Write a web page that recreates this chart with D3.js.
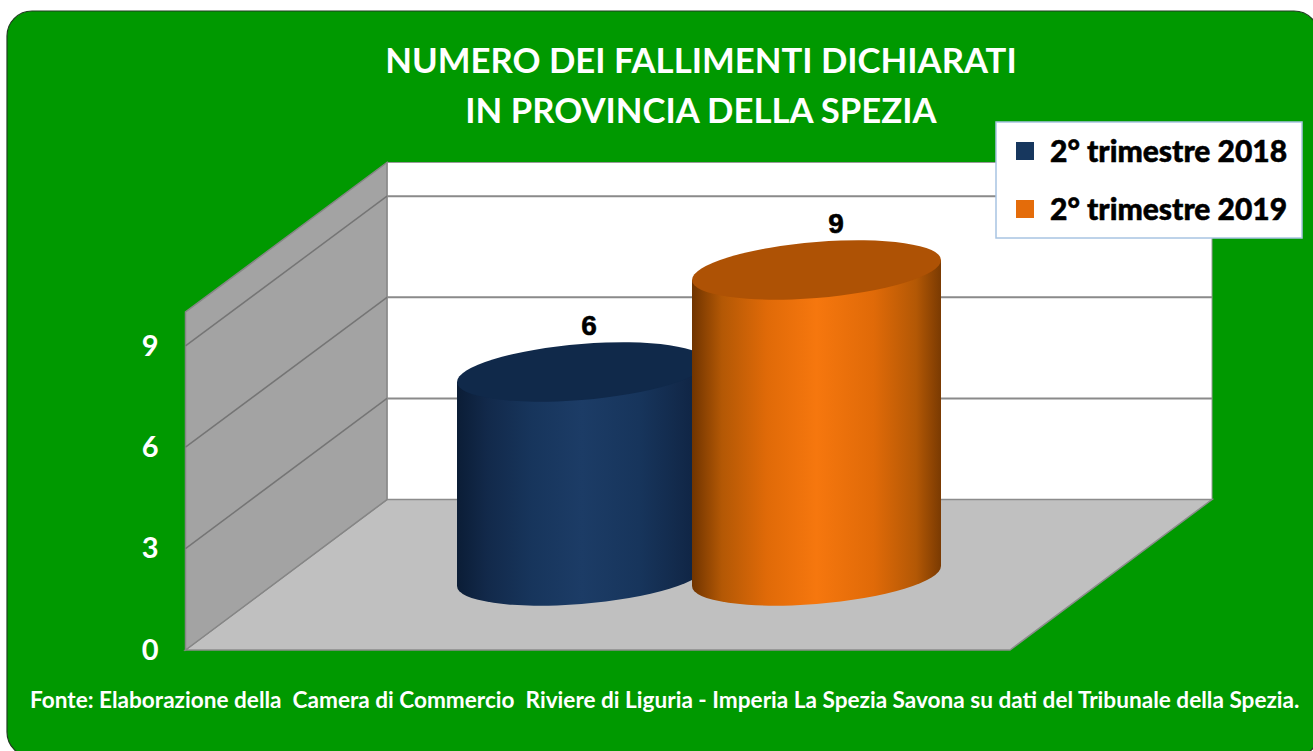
<!DOCTYPE html>
<html>
<head>
<meta charset="utf-8">
<script src="https://cdn.jsdelivr.net/npm/d3@7"></script>
<style>
  html, body { margin: 0; padding: 0; background: #fff; overflow: hidden; }
  svg { display: block; }
  text { font-family: Lato, "Open Sans", sans-serif; }
</style>
</head>
<body>
<svg width="1313" height="751"></svg>
<script>
// chart values
var series = ["2° trimestre 2018", "2° trimestre 2019"];
var values = [6, 9];
var ticks = [0, 3, 6, 9];
var titleLines = ["NUMERO DEI FALLIMENTI DICHIARATI", "IN PROVINCIA DELLA SPEZIA"];
var source = "Fonte: Elaborazione della  Camera di Commercio  Riviere di Liguria - Imperia La Spezia Savona su dati del Tribunale della Spezia.";

var svg = d3.select("svg");
var defs = svg.append("defs");

// green panel, runs off the right and bottom edge
svg.append("rect")
  .attr("x", 7).attr("y", 11)
  .attr("width", 1312).attr("height", 746)
  .attr("rx", 25).attr("ry", 25)
  .attr("fill", "#009900")
  .attr("stroke", "#1f3d1f")
  .attr("stroke-width", 1.2);

// the box: front face of the floor and back wall are the same scale, shifted
var yBack = d3.scaleLinear().domain([0, 10]).range([499.5, 162.5]);
var yFront = d3.scaleLinear().domain([0, 10]).range([650, 312]);
var xFront = 185.5, xBack = 387, xFrontRight = 1010, xBackRight = 1212;

// back wall
svg.append("rect")
  .attr("x", xBack).attr("y", yBack(10))
  .attr("width", xBackRight - xBack).attr("height", yBack(0) - yBack(10))
  .attr("fill", "#fff")
  .attr("stroke", "#999").attr("stroke-width", 1);

// floor
svg.append("polygon")
  .attr("points", [[xFront, yFront(0)], [xBack, yBack(0)], [xBackRight, yBack(0)], [xFrontRight, yFront(0)]].join(" "))
  .attr("fill", "#c0c0c0")
  .attr("stroke", "#8c8c8c").attr("stroke-width", 1.5);

// left wall
svg.append("polygon")
  .attr("points", [[xFront, yFront(0)], [xBack, yBack(0)], [xBack, yBack(10)], [xFront, yFront(10)]].join(" "))
  .attr("fill", "#a3a3a3")
  .attr("stroke", "#868686").attr("stroke-width", 1.5);

// gridlines
var gridTicks = ticks.slice(1);
svg.selectAll("line.wall").data(gridTicks).enter().append("line")
  .attr("class", "wall")
  .attr("x1", xFront).attr("x2", xBack)
  .attr("y1", function(d) { return yFront(d); })
  .attr("y2", function(d) { return yBack(d); })
  .attr("stroke", "#757575").attr("stroke-width", 1.5);
svg.selectAll("line.back").data(gridTicks).enter().append("line")
  .attr("class", "back")
  .attr("x1", xBack).attr("x2", xBackRight)
  .attr("y1", function(d) { return yBack(d); })
  .attr("y2", function(d) { return yBack(d); })
  .attr("stroke", "#8a8a8a").attr("stroke-width", 2);

// y axis labels
var yAxis = d3.axisLeft(yFront).tickValues(ticks).tickSize(0).tickPadding(27).tickFormat(d3.format("d"));
var yGroup = svg.append("g")
  .attr("transform", "translate(" + xFront + ",0)")
  .call(yAxis);
yGroup.select(".domain").remove();
yGroup.selectAll("text")
  .attr("fill", "#fff")
  .style("font-family", "Lato, sans-serif")
  .style("font-size", "29px")
  .style("font-weight", "700");

// cylinders
var x = d3.scalePoint().domain(series).range([581.5, 816.5]);
var labelX = d3.scalePoint().domain(series).range([589, 836]);
var barY = d3.scaleLinear().domain([0, 9]).range([576, 270]);
var rx = 124.5, ry = 28, tilt = Math.atan(-10 / 124.5) * 180 / Math.PI;

var bodyStops = [
  ["#0b1d36", "#12294a", "#17355c", "#1c3c66", "#17355c", "#12294a", "#0e2140"],
  ["#703400", "#b35805", "#e06a08", "#f6770e", "#e06a08", "#b35805", "#7a3a02"]
];
var topFill = ["#10294a", "#ae5205"];
var stopAt = [0, 0.12, 0.3, 0.5, 0.73, 0.9, 1];

series.forEach(function(s, i) {
  var g = defs.append("linearGradient").attr("id", "body" + i)
    .attr("x1", "0").attr("x2", "1").attr("y1", "0").attr("y2", "0");
  bodyStops[i].forEach(function(c, j) {
    g.append("stop").attr("offset", stopAt[j]).attr("stop-color", c);
  });
});

var bars = svg.selectAll("g.bar")
  .data(series.map(function(s, i) { return { name: s, value: values[i], i: i }; }))
  .enter().append("g")
  .attr("class", "bar")
  .attr("transform", function(d) { return "translate(" + x(d.name) + "," + barY(0) + ") skewY(" + tilt + ")"; });

bars.append("path")
  .attr("d", function(d) {
    var top = barY(d.value) - barY(0);
    return "M" + (-rx) + "," + top + "L" + (-rx) + ",0A" + rx + "," + ry + " 0 0 0 " + rx + ",0L" + rx + "," + top + "Z";
  })
  .attr("fill", function(d) { return "url(#body" + d.i + ")"; });

bars.append("ellipse")
  .attr("cx", 0)
  .attr("cy", function(d) { return barY(d.value) - barY(0); })
  .attr("rx", rx).attr("ry", ry)
  .attr("fill", function(d) { return topFill[d.i]; });

// value labels
svg.selectAll("text.value")
  .data(series.map(function(s, i) { return { name: s, value: values[i] }; }))
  .enter().append("text")
  .attr("class", "value")
  .attr("x", function(d) { return labelX(d.name); })
  .attr("y", function(d) { return barY(d.value) - 37; })
  .attr("text-anchor", "middle")
  .style("font-family", "'Liberation Sans', Arial, sans-serif")
  .style("font-size", "28px")
  .style("font-weight", "700")
  .attr("fill", "#000")
  .attr("stroke", "#000").attr("stroke-width", 0.6)
  .text(function(d) { return d.value; });

// title
svg.selectAll("text.title").data(titleLines).enter().append("text")
  .attr("class", "title")
  .attr("x", 701)
  .attr("y", function(d, i) { return 73 + i * 50; })
  .attr("text-anchor", "middle")
  .attr("fill", "#fff")
  .style("font-size", "34.7px")
  .style("font-weight", "700")
  .text(function(d) { return d; });

// legend
var legend = svg.append("g");
legend.append("rect")
  .attr("x", 996).attr("y", 122)
  .attr("width", 306).attr("height", 116)
  .attr("fill", "#fff")
  .attr("stroke", "#a8c4e2").attr("stroke-width", 1.5);
var legendY = d3.scalePoint().domain(series).range([151, 209]);
var swatch = ["#17375e", "#e46c0a"];
var items = legend.selectAll("g").data(series).enter().append("g");
items.append("rect")
  .attr("x", 1016)
  .attr("y", function(d) { return legendY(d) - 9; })
  .attr("width", 18).attr("height", 18)
  .attr("fill", function(d, i) { return swatch[i]; });
items.append("text")
  .attr("x", 1050)
  .attr("y", function(d) { return legendY(d) + 11; })
  .attr("fill", "#000")
  .attr("stroke", "#000").attr("stroke-width", 0.5)
  .style("font-size", "30px")
  .style("font-weight", "900")
  .text(function(d) { return d; });

// source
svg.append("text")
  .attr("x", 30).attr("y", 708)
  .attr("fill", "#fff")
  .style("font-size", "22.6px")
  .style("font-weight", "700")
  .style("white-space", "pre")
  .text(source);
</script>
</body>
</html>
